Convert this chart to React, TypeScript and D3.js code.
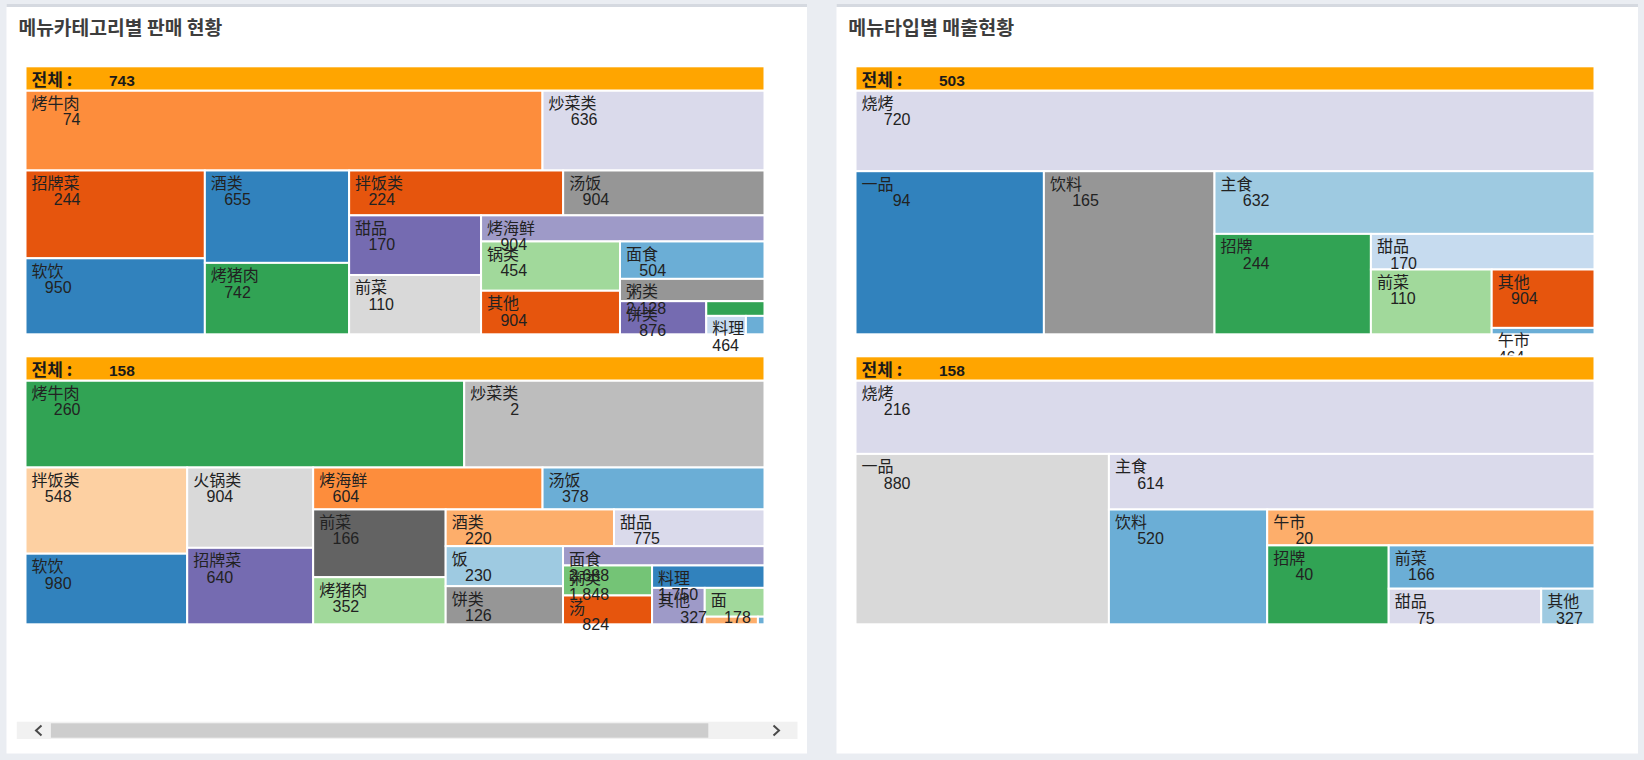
import React from "react";
import * as d3 from "d3";

// ---------- data ----------
const title1 = "메뉴카테고리별 판매 현황";
const title2 = "메뉴타입별 매출현황";

// chart 1 : 메뉴카테고리별 (상단)
const c1Total = "743";
const c1Names = ["烤牛肉", "炒菜类", "招牌菜", "软饮", "酒类", "烤猪肉", "拌饭类", "汤饭", "甜品", "前菜", "烤海鲜", "锅类", "其他", "面食", "粥类", "饼类", "", "料理", ""];
const c1Sizes = [41360, 17760, 15751, 13634, 13333, 10303, 9609, 9038, 7867, 7828, 7394, 6850, 6050, 5408, 3225, 2857, 857, 730, 342];
const c1Labels = ["##,#74", "##,636", "##,244", "#,950", "#,655", "#,742", "#,224", "#,904", "#,170", "#,110", "#,904", "#,454", "#,904", "#,504", "2,128", "#,876", "", "464", ""];
const c1Colors = ["#fd8d3c", "#dadaeb", "#e6550d", "#3182bd", "#3182bd", "#31a354", "#e6550d", "#969696", "#756bb1", "#d9d9d9", "#9e9ac8", "#a1d99b", "#e6550d", "#6baed6", "#969696", "#756bb1", "#31a354", "#c6dbef", "#6baed6"];

// chart 2 : 메뉴카테고리별 (하단)
const c2Total = "158";
const c2Names = ["烤牛肉", "炒菜类", "拌饭类", "软饮", "火锅类", "招牌菜", "烤海鲜", "汤饭", "前菜", "烤猪肉", "酒类", "甜品", "饭", "饼类", "面食", "粥类", "汤", "料理", "其他", "面", "", ""];
const c2Sizes = [38167, 26126, 13939, 11416, 10119, 9630, 9620, 9307, 8977, 6245, 6180, 5527, 4696, 4473, 3891, 2673, 2566, 2520, 1918, 1722, 404, 50];
const c2Labels = ["##,260", "##,##2", "#,548", "#,980", "#,904", "#,640", "#,604", "#,378", "#,166", "#,352", "#,220", "#,775", "#,230", "#,126", "2,688", "1,848", "#,824", "1,750", "##,327", "#,178", "", ""];
const c2Colors = ["#31a354", "#bdbdbd", "#fdd0a2", "#3182bd", "#d9d9d9", "#756bb1", "#fd8d3c", "#6baed6", "#636363", "#a1d99b", "#fdae6b", "#dadaeb", "#9ecae1", "#969696", "#9e9ac8", "#74c476", "#e6550d", "#3182bd", "#9e9ac8", "#a1d99b", "#fdae6b", "#6baed6"];

// chart 3 : 메뉴타입별 (상단)
const c3Total = "503";
const c3Names = ["烧烤", "一品", "饮料", "主食", "招牌", "甜品", "前菜", "其他", "午市"];
const c3Sizes = [59637, 30728, 27825, 23826, 15703, 7960, 7828, 6004, 658];
const c3Labels = ["##,720", "##,#94", "##,165", "##,632", "##,244", "#,170", "#,110", "#,904", "464"];
const c3Colors = ["#dadaeb", "#3182bd", "#969696", "#9ecae1", "#31a354", "#c6dbef", "#a1d99b", "#e6550d", "#6baed6"];

// chart 4 : 메뉴타입별 (하단)
const c4Total = "158";
const c4Names = ["烧烤", "一品", "主食", "饮料", "午市", "招牌", "前菜", "甜品", "其他"];
const c4Sizes = [54243, 43179, 27000, 18173, 11750, 9586, 8911, 5429, 1897];
const c4Labels = ["##,216", "##,880", "##,614", "##,520", "#,#20", "#,#40", "#,166", "#,#75", "#327"];
const c4Colors = ["#dadaeb", "#d9d9d9", "#dadaeb", "#6baed6", "#fdae6b", "#31a354", "#6baed6", "#dadaeb", "#9ecae1"];

// ---------- layout helpers ----------
type Spec = { names: string[]; sizes: number[]; labels: string[]; colors: string[]; total: string };

// squarified tiling in the classic (v3) manner, applied through d3.treemap
function squarifyV3(ratio: number) {
  return (parent: any, x0: number, y0: number, x1: number, y1: number) => {
    const nodes = parent.children;
    const k = ((x1 - x0) * (y1 - y0)) / parent.value;
    const rect = { x: x0, y: y0, dx: x1 - x0, dy: y1 - y0 };
    const worst = (r: any[], s: number, uu: number) => {
      let rmax = 0, rmin = Infinity;
      for (const c of r) {
        const a = c.value * k;
        if (!a) continue;
        if (a < rmin) rmin = a;
        if (a > rmax) rmax = a;
      }
      const s2 = s * s, u2 = uu * uu;
      return s2 ? Math.max((u2 * rmax * ratio) / s2, s2 / (u2 * rmin * ratio)) : Infinity;
    };
    const position = (r: any[], s: number, uu: number, flush: boolean) => {
      const group: any = { value: s / k, children: r };
      let v = uu ? s / uu : 0;
      if (uu === rect.dx) {
        if (flush || v > rect.dy) v = rect.dy;
        d3.treemapDice(group, rect.x, rect.y, rect.x + rect.dx, rect.y + v);
        rect.y += v;
        rect.dy -= v;
      } else {
        if (flush || v > rect.dx) v = rect.dx;
        d3.treemapSlice(group, rect.x, rect.y, rect.x + v, rect.y + rect.dy);
        rect.x += v;
        rect.dx -= v;
      }
    };
    let row: any[] = [];
    let rowArea = 0;
    let best = Infinity;
    let u = Math.min(rect.dx, rect.dy);
    let i = 0;
    while (i < nodes.length) {
      const c = nodes[i];
      row.push(c);
      rowArea += c.value * k;
      const score = worst(row, rowArea, u);
      if (score <= best) {
        i++;
        best = score;
      } else {
        row.pop();
        rowArea -= c.value * k;
        position(row, rowArea, u, false);
        u = Math.min(rect.dx, rect.dy);
        row = [];
        rowArea = 0;
        best = Infinity;
      }
    }
    if (row.length) position(row, rowArea, u, true);
  };
}

function splitMasked(s: string): [number, number, string] {
  const last = s.lastIndexOf("#");
  if (last < 0) return [0, 0, s];
  let end = last + 1;
  if (s[end] === ",") end++;
  const hidden = s.slice(0, end);
  const digits = (hidden.match(/#/g) || []).length;
  const commas = (hidden.match(/,/g) || []).length;
  return [digits, commas, s.slice(end)];
}

const BW = 739;
const BH = 243.8;
const HH = 24.2;
const FS = 16;
const LABEL_FONT = "'Liberation Sans', Arial, 'Noto Sans CJK SC', sans-serif";

function Treemap({ spec, x, y }: { spec: Spec; x: number; y: number }) {
  const items = spec.names.map((name, i) => ({
    name,
    size: spec.sizes[i],
    label: spec.labels[i],
    color: spec.colors[i],
    idx: i,
  }));
  const root = d3
    .hierarchy({ name: "root", children: items } as any)
    .sum((d: any) => d.size || 0)
    .sort((a: any, b: any) => b.value - a.value);
  d3.treemap<any>()
    .size([1, 1])
    .tile(squarifyV3((BH / BW) * 0.5 * (1 + Math.sqrt(5))) as any)(root as any);
  const leaves: any[] = root.leaves();
  const sx = d3.scaleLinear().domain([0, 1]).range([x, x + BW]);
  const sy = d3.scaleLinear().domain([0, 1]).range([y + HH, y + HH + BH]);

  return (
    <g>
      {leaves.map((l) => (
        <rect
          key={"r" + l.data.idx}
          x={sx(l.x0)}
          y={sy(l.y0)}
          width={sx(l.x1) - sx(l.x0)}
          height={sy(l.y1) - sy(l.y0)}
          fill={l.data.color}
          stroke="#fff"
          strokeWidth={2}
        />
      ))}
      {leaves.map((l) => {
        if (!l.data.name) return null;
        const [dg, cm, vis] = splitMasked(l.data.label);
        const off = dg * 0.556 * FS + cm * 0.278 * FS;
        const lx = sx(l.x0) + 6;
        const ly = sy(l.y0);
        return (
          <g key={"t" + l.data.idx} fontFamily={LABEL_FONT} fontSize={FS} fill="#222">
            <text x={lx} y={ly + 18.5}>{l.data.name}</text>
            <text x={lx + off} y={ly + 34.8}>{vis}</text>
          </g>
        );
      })}
      <rect x={x} y={y} width={BW} height={HH} fill="#ffa500" stroke="#fff" strokeWidth={2} />
      <text
        x={x + 6}
        y={y + 19.3}
        fontFamily="'Noto Sans CJK KR', 'Liberation Sans', sans-serif"
        fontSize={17}
        fontWeight="bold"
        fill="#1a1a1a"
      >
        전체 :
      </text>
      <text
        x={x + 83.5}
        y={y + 19.3}
        fontFamily="'Liberation Sans', Arial, sans-serif"
        fontSize={15.5}
        fontWeight="bold"
        fill="#1a1a1a"
      >
        {spec.total}
      </text>
    </g>
  );
}

const spec1: Spec = { names: c1Names, sizes: c1Sizes, labels: c1Labels, colors: c1Colors, total: c1Total };
const spec2: Spec = { names: c2Names, sizes: c2Sizes, labels: c2Labels, colors: c2Colors, total: c2Total };
const spec3: Spec = { names: c3Names, sizes: c3Sizes, labels: c3Labels, colors: c3Colors, total: c3Total };
const spec4: Spec = { names: c4Names, sizes: c4Sizes, labels: c4Labels, colors: c4Colors, total: c4Total };

export default function App() {
  const titleFont = "'Noto Sans CJK KR', 'Noto Sans', sans-serif";
  return (
    <svg
      width={1644}
      height={760}
      style={{ position: "absolute", left: 0, top: 0, display: "block" }}
    >
      <rect x={0} y={0} width={1644} height={760} fill="#eaedf2" />
      {/* panel 1 */}
      <rect x={6.5} y={4} width={800.5} height={749.5} fill="#ffffff" />
      <rect x={6.5} y={4} width={800.5} height={3} fill="#d5d9e0" />
      {/* panel 2 */}
      <rect x={836.5} y={4} width={801.5} height={749.5} fill="#ffffff" />
      <rect x={836.5} y={4} width={801.5} height={3} fill="#d5d9e0" />

      <text x={18.4} y={34.5} fontFamily={titleFont} fontSize={19.3} fontWeight="bold" fill="#3d3d3d">
        {title1}
      </text>
      <text x={848.2} y={34.5} fontFamily={titleFont} fontSize={19.5} fontWeight="bold" fill="#3d3d3d">
        {title2}
      </text>

      <Treemap spec={spec1} x={25.5} y={66.3} />
      <Treemap spec={spec2} x={25.5} y={356.3} />
      <Treemap spec={spec3} x={855.5} y={66.3} />
      <Treemap spec={spec4} x={855.5} y={356.3} />

      {/* horizontal scrollbar of panel 1 */}
      <rect x={16.8} y={721.7} width={780.7} height={17.3} fill="#f1f1f1" />
      <rect x={50.9} y={723.3} width={657.4} height={14.4} fill="#cdcdcd" />
      <path d="M41.5,725.5 L36,730.5 L41.5,735.5" fill="none" stroke="#4a4a4a" strokeWidth={2} />
      <path d="M773.5,725.5 L779,730.5 L773.5,735.5" fill="none" stroke="#4a4a4a" strokeWidth={2} />
    </svg>
  );
}
